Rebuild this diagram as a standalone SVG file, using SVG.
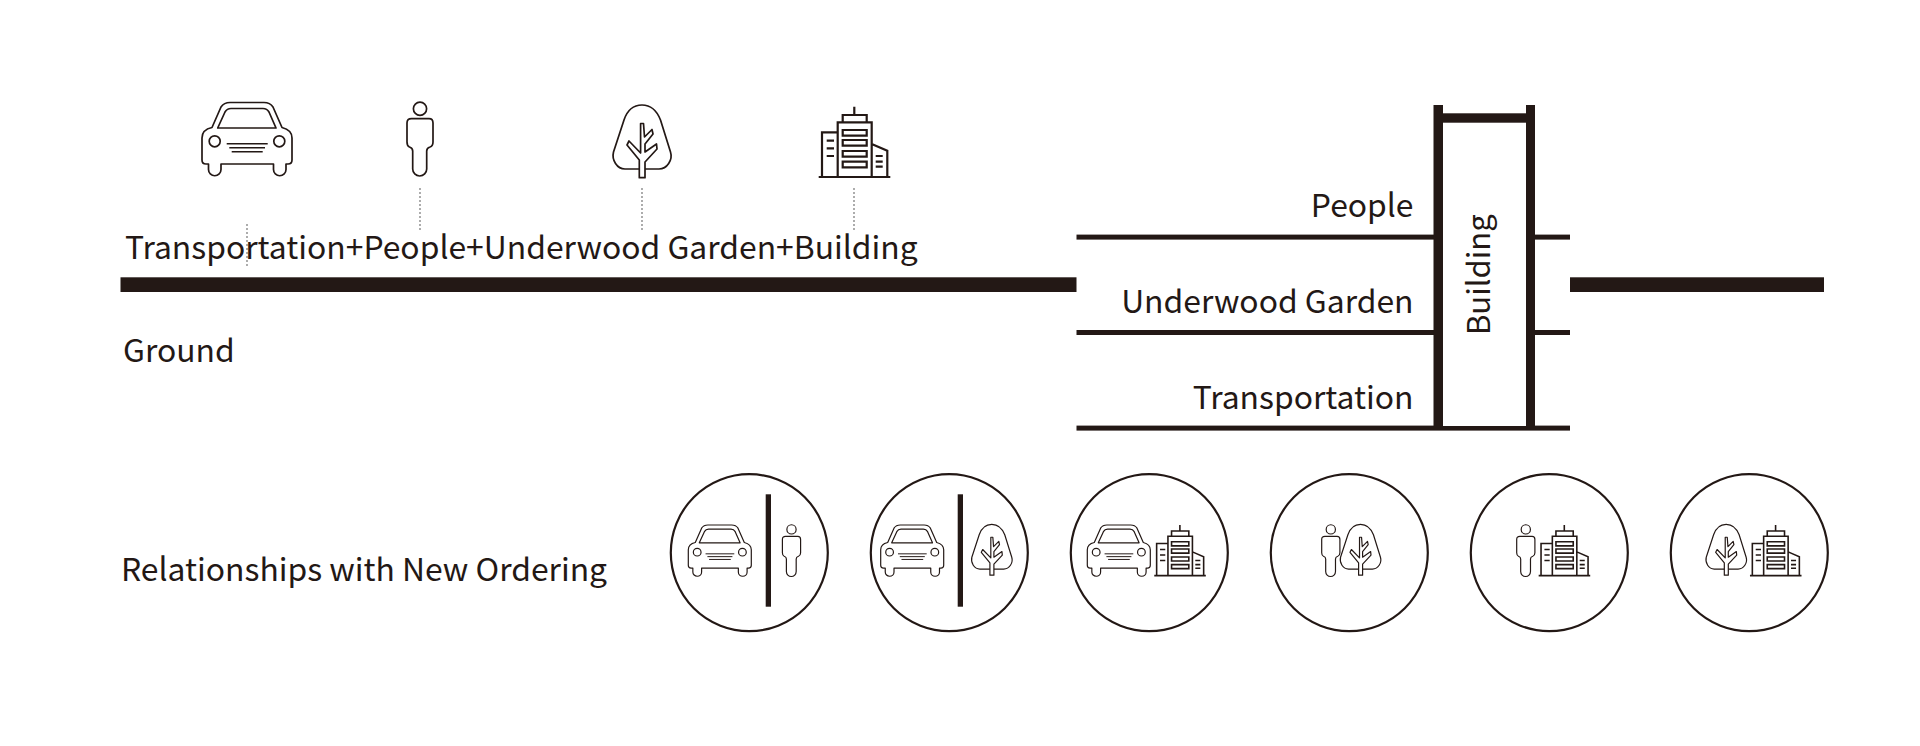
<svg xmlns="http://www.w3.org/2000/svg" xmlns:xlink="http://www.w3.org/1999/xlink" width="1920" height="746" viewBox="0 0 1920 746">
<style>
text{font-family:"Noto Sans CJK SC","Noto Sans",sans-serif;fill:#231815;font-size:31.85px}
.end{text-anchor:end}
.bar{fill:#231815}
.ln{fill:none;stroke:#231815;stroke-width:1.7;stroke-linejoin:round}
.thin{fill:none;stroke:#231815;stroke-width:1.4}
.bd{fill:none;stroke:#231815;stroke-width:2.2}
.ring{fill:#fff;stroke:#231815;stroke-width:2.2}
.dot{stroke:#8a8a8a;stroke-width:1.4;stroke-dasharray:2 2;fill:none}
</style>
<defs>
<g id="car">
<path class="ln" d="M230,102.5H264C268,102.5 271,104 273,107L282,127.5C288,129 292,132 292,138V160Q292,164 288,164H286V169.5A6.2,6.2 0 0 1 273.5,169.5V164H221V169.5A6.2,6.2 0 0 1 208.5,169.5V164H206Q202,164 202,160V138C202,132 205,129 212,127.5L221,107C223,104 226,102.5 230,102.5Z"/>
<path class="ln" d="M217.7,128L225,112Q227,108.5 231,108.5H263Q267,108.5 269,112L276,128Z"/>
<circle class="ln" cx="214.7" cy="141.3" r="5.5"/>
<circle class="ln" cx="279.3" cy="141.3" r="5.5"/>
<path class="thin" d="M226.7,143.7H267.7M229.3,147.7H265M231.7,151.7H262.7"/>
</g>
<g id="person">
<circle class="ln" cx="420" cy="108.7" r="6.6"/>
<path class="ln" d="M411.5,118.7H429Q433,118.7 433,123V142Q433,146 430,147Q426.7,148 426.7,151V169A7,7 0 0 1 412.7,169V151Q412.7,148 409.5,147Q407,146 407,142V123Q407,118.7 411.5,118.7Z"/>
</g>
<g id="tree">
<path class="ln" d="M642,105C633,105 627,111 624,120L613.5,152C611.5,160 617,169 625,169H659C667,169 673,160 670.5,152L660.5,120C657,111 651,105 642,105Z"/>
<path class="ln" style="fill:#fff" d="M639.3,177.7V160L627,145L629,141L640.6,153V123.5H643.5L644.5,137L652,129.5L653,134L645,144V152L656.5,144L657,149L645,162V177.7Z"/>
</g>
<g id="bldg">
<path class="bd" d="M818.7,177H890.3M854.3,106.7V115M842.7,122.3V115H866.7V122.3M837.7,177V122.3H871.7V177M837.7,132.3H822V177M871.7,144L887.3,150.7V177"/>
<path class="bd" d="M842.7,130H866.7V135.7H842.7ZM842.7,140H866.7V145.7H842.7ZM842.7,151H866.7V156.7H842.7ZM842.7,161.7H866.7V167.3H842.7Z"/>
<path class="bd" d="M826.7,140.7H834M826.7,148.3H834M826.7,156H834M875.7,156H882.7M875.7,161.7H882.7M875.7,166.7H882.7"/>
</g>
</defs>
<rect width="1920" height="746" fill="#fff"/>
<g id="connectors">
<path class="dot" d="M247,224V266M420,188V230M642,188V230M854,188V230"/>
</g>
<g id="node-icons">
<use href="#car"/>
<use href="#person"/>
<use href="#tree"/>
<use href="#bldg"/>
</g>
<g id="node-ground">
<text x="125" y="258.5">Transportation+People+Underwood Garden+Building</text>
<rect class="bar" x="120.5" y="277.3" width="956" height="14.7"/>
<rect class="bar" x="1570" y="277.3" width="254" height="14.7"/>
<text x="123" y="361.5">Ground</text>
</g>
<g id="node-section">
<rect class="bar" x="1076.5" y="234.6" width="493.5" height="5"/>
<rect class="bar" x="1076.5" y="330" width="493.5" height="5"/>
<rect class="bar" x="1076.5" y="425.6" width="493.5" height="5"/>
<rect x="1443" y="122" width="83" height="304" fill="#fff"/>
<rect class="bar" x="1433.5" y="105" width="9.5" height="325"/>
<rect class="bar" x="1526" y="105" width="9" height="325"/>
<rect class="bar" x="1443" y="113.3" width="83" height="9.4"/>
<rect x="1443" y="230" width="83" height="12" fill="#fff"/>
<rect x="1443" y="326" width="83" height="12" fill="#fff"/>
<text class="end" x="1413.5" y="217">People</text>
<text class="end" x="1413.5" y="312.5">Underwood Garden</text>
<text class="end" x="1413.5" y="408.5">Transportation</text>
<text transform="translate(1490,335) rotate(-90)" style="font-size:31px">Building</text>
</g>
<text id="node-rel" x="121" y="580.5">Relationships with New Ordering</text>
<g id="node-c1">
<circle class="ring" cx="749.3" cy="552.7" r="78.5"/>
<rect class="bar" x="765.7" y="494.3" width="5.3" height="112.4"/>
<use href="#car" transform="translate(546.9,453.25) scale(.7)"/>
<use href="#person" transform="translate(497.5,453.3) scale(.7)"/>
</g>
<g id="node-c2">
<circle class="ring" cx="949.3" cy="552.7" r="78.5"/>
<rect class="bar" x="957.7" y="494.3" width="5.3" height="112.4"/>
<use href="#car" transform="translate(739.3,453.25) scale(.7)"/>
<use href="#tree" transform="translate(542.4,450.8) scale(.7)"/>
</g>
<g id="node-c3">
<circle class="ring" cx="1149.3" cy="552.7" r="78.5"/>
<use href="#car" transform="translate(945.9,453.25) scale(.7)"/>
<use href="#bldg" transform="translate(564.8,448.2) scale(.72)"/>
</g>
<g id="node-c4">
<circle class="ring" cx="1349.3" cy="552.7" r="78.5"/>
<use href="#person" transform="translate(1036.8,453.3) scale(.7)"/>
<use href="#tree" transform="translate(911.1,450.8) scale(.7)"/>
</g>
<g id="node-c5">
<circle class="ring" cx="1549.3" cy="552.7" r="78.5"/>
<use href="#person" transform="translate(1231.8,453.3) scale(.7)"/>
<use href="#bldg" transform="translate(949.2,448.2) scale(.72)"/>
</g>
<g id="node-c6">
<circle class="ring" cx="1749.3" cy="552.7" r="78.5"/>
<use href="#tree" transform="translate(1276.8,450.8) scale(.7)"/>
<use href="#bldg" transform="translate(1160.5,448.2) scale(.72)"/>
</g>
</svg>
